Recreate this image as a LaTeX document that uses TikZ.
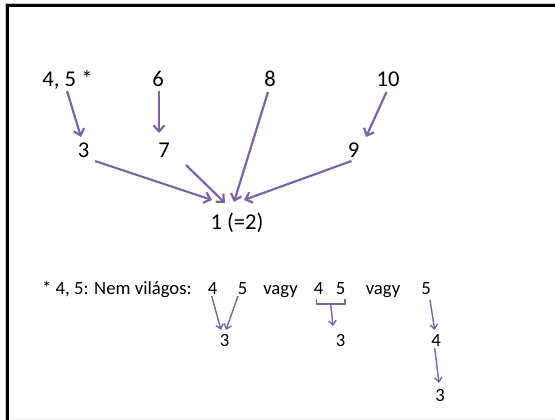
\documentclass[tikz,border=0pt]{standalone}
\usepackage{fontspec}
\setmainfont{Carlito}
\usetikzlibrary{arrows.meta}
\definecolor{arrpurple}{HTML}{8064A2}
\begin{document}
\begin{tikzpicture}[x=1pt,y=-1pt,
  big/.style={anchor=base,inner sep=0pt,font=\fontsize{22.6}{26}\selectfont},
  small/.style={anchor=base,inner sep=0pt,font=\fontsize{18.7}{22}\selectfont},
  arr/.style={draw=arrpurple,line width=2.2pt,-{Straight Barb[length=6pt,width=11pt]}},
  sarr/.style={draw=arrpurple,line width=1.4pt,-{Straight Barb[length=4.5pt,width=7.5pt]}},
  brk/.style={draw=arrpurple,line width=1.4pt}]
\useasboundingbox (0,0) rectangle (555,420);
\fill[white] (0,0) rectangle (555,420);
% frame
\draw[gray!45,line width=1pt] (5.3,420) -- (5.3,3.3) -- (555,3.3);
\draw[black,line width=2.6pt] (7.4,420) -- (7.4,5.4) -- (555,5.4);
\draw[gray!15,line width=1pt] (8.7,419) -- (555,419);
% top diagram
\node[big] (n45) at (67.5,86.7) {4, 5 *};
\node[big] (n6) at (158,86.7) {6};
\node[big] (n8) at (270,86.7) {8};
\node[big] (n10) at (388,86.7) {10};
\node[big] (n3) at (83.5,157.5) {3};
\node[big] (n7) at (164,157.5) {7};
\node[big] (n9) at (353.5,157.5) {9};
\node[big] (n1) at (237,229.5) {1 (=2)};
\draw[arr] ([shift={(-0.5,4.3)}]n45.base) -- ([shift={(-2.5,-20.5)}]n3.base);
\draw[arr] ([shift={(1,4.3)}]n6.base) -- ([shift={(-5,-24.5)}]n7.base);
\draw[arr] ([shift={(-2,5.3)}]n8.base) -- ([shift={(-3,-27.5)}]n1.base);
\draw[arr] ([shift={(-1.5,5.3)}]n10.base) -- ([shift={(12.5,-20.5)}]n9.base);
\draw[arr] ([shift={(11.5,3.5)}]n3.base) -- ([shift={(-25,-29.5)}]n1.base);
\draw[arr] ([shift={(22,7.5)}]n7.base) -- ([shift={(-12,-26.5)}]n1.base);
\draw[arr] ([shift={(-2,3.5)}]n9.base) -- ([shift={(7,-29.5)}]n1.base);
% footnote
\node[small,anchor=base west] (note) at (42,294.3) {* 4, 5: Nem világos:};
\node[small] (b4) at (212.5,294.3) {4};
\node[small] (b5) at (242.5,294.3) {5};
\node[small] (vagy1) at (280.5,294.3) {vagy};
\node[small] (b4b) at (318.5,294.3) {4};
\node[small] (b5b) at (340.5,294.3) {5};
\node[small] (vagy2) at (383,294.3) {vagy};
\node[small] (b5c) at (426,294.3) {5};
\node[small] (c3a) at (224.5,346.7) {3};
\node[small] (c3b) at (340.5,346.7) {3};
\node[small] (c4) at (436,346.7) {4};
\node[small] (c3c) at (440,401) {3};
\draw[sarr] ([shift={(-0.8,1.7)}]b4.base) -- ([shift={(-3.5,-16.7)}]c3a.base);
\draw[sarr] ([shift={(-4.5,1.7)}]b5.base) -- ([shift={(1.5,-16.7)}]c3a.base);
\draw[brk] ([shift={(-2.3,4.5)}]b4b.base) -- ([shift={(-2.3,9.5)}]b4b.base)
  -- ([shift={(4.5,9.5)}]b5b.base) -- ([shift={(4.5,4.5)}]b5b.base);
\coordinate (bmid) at ([shift={(-9.8,9.5)}]b5b.base);
\draw[sarr] (bmid) -- ([shift={(-7.5,-20.7)}]c3b.base);
\draw[sarr] ([shift={(4,5.7)}]b5c.base) -- ([shift={(-1.3,-16.7)}]c4.base);
\draw[sarr] ([shift={(-1.3,1.3)}]c4.base) -- ([shift={(-1,-18)}]c3c.base);
\end{tikzpicture}
\end{document}
